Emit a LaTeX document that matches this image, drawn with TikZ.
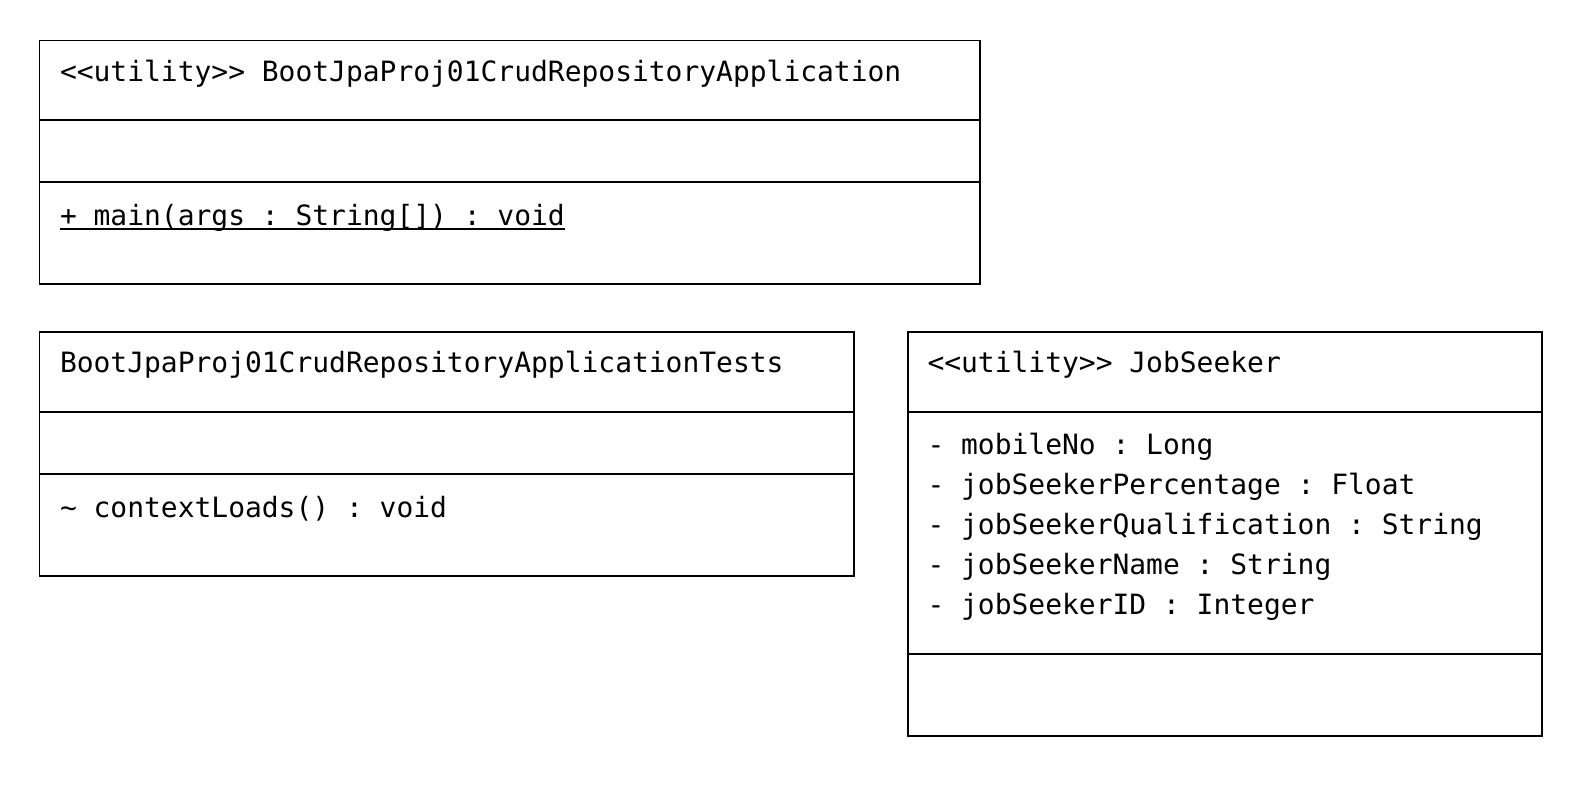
\documentclass[tikz,border=0pt]{standalone}
\usepackage{fontspec}
\setmonofont{DejaVu Sans Mono}
\begin{document}
\begin{tikzpicture}[x=1pt,y=-1pt,
  boxline/.style={draw=black,line width=1.9pt},
  uline/.style={draw=black,line width=1.6pt},
  txt/.style={anchor=base west,inner sep=0pt,outer sep=0pt,font=\ttfamily\fontsize{27.95}{40}\selectfont}]
\useasboundingbox[fill=white] (0,0) rectangle (1582,802);
% Box 1
\draw[boxline] (39.5,40.5) rectangle (980,284);
\draw[boxline] (39.5,120) -- (980,120);
\draw[boxline] (39.5,182) -- (980,182);
\node[txt] (t1) at (60,81.5) {<<utility>> BootJpaProj01CrudRepositoryApplication};
\node[txt] (m1) at (60,225.5) {+ main(args : String[]) : void};
\draw[uline] ([yshift=-3.5pt]m1.base west) -- ([yshift=-3.5pt]m1.base east);
% Box 2
\draw[boxline] (39.5,332) rectangle (854,576);
\draw[boxline] (39.5,412) -- (854,412);
\draw[boxline] (39.5,474) -- (854,474);
\node[txt] (t2) at (60,372.5) {BootJpaProj01CrudRepositoryApplicationTests};
\node[txt] (m2) at (60,517) {\char`\~{} contextLoads() : void};
% Box 3
\draw[boxline] (908,332) rectangle (1542,736);
\draw[boxline] (908,412) -- (1542,412);
\draw[boxline] (908,654) -- (1542,654);
\node[txt] (t3) at (927.5,372.5) {<<utility>> JobSeeker};
\node[txt] (a1) at (927.5,454.5) {- mobileNo : Long};
\node[txt] (a2) at (927.5,494.5) {- jobSeekerPercentage : Float};
\node[txt] (a3) at (927.5,534.5) {- jobSeekerQualification : String};
\node[txt] (a4) at (927.5,574.5) {- jobSeekerName : String};
\node[txt] (a5) at (927.5,614.5) {- jobSeekerID : Integer};
\end{tikzpicture}
\end{document}
